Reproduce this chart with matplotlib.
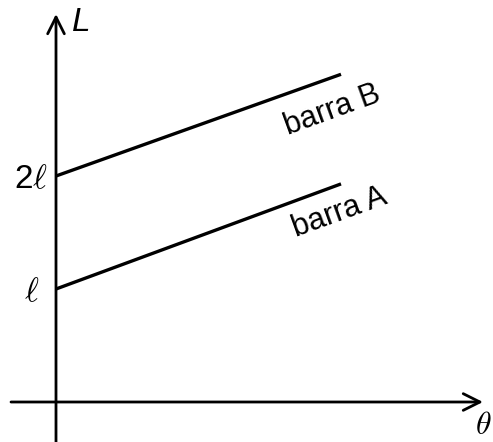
import matplotlib
matplotlib.use('Agg')
import matplotlib.pyplot as plt

plt.rcParams["font.family"] = "Liberation Sans"
plt.rcParams["mathtext.fontset"] = "cm"

# data: temperature (arbitrary units) vs length, in units of l
theta = [0.0, 1.0]
L_A = [1.0, 1.93]
L_B = [2.0, 2.9]
tick_vals = [1.0, 2.0]
tick_labels = [r"$\ell$", r"2$\ell$"]

# pixel -> data scale: origin at (56, 402), x unit 285 px, y unit 113 px
W, H = 493, 442
ox, oy, ux, uy = 56, 402, 285, 113

fig = plt.figure(figsize=(W / 100, H / 100), dpi=100)
ax = fig.add_axes([0, 0, 1, 1])
ax.set_xlim(-ox / ux, (W - ox) / ux)
ax.set_ylim(-(H - oy) / uy, oy / uy)
ax.axis('off')

# axes with open arrow heads
ax.annotate('', xy=((483 - ox) / ux, 0), xytext=((11 - ox) / ux, 0),
            arrowprops=dict(arrowstyle='->', lw=2.0, color='black',
                            mutation_scale=30, shrinkA=0, shrinkB=0))
ax.annotate('', xy=(0, (oy - 14) / uy), xytext=(0, -(H - oy) / uy),
            arrowprops=dict(arrowstyle='->', lw=2.0, color='black',
                            mutation_scale=30, shrinkA=0, shrinkB=0))

ax.plot(theta, L_A, color='black', lw=2.4, solid_capstyle='butt')
ax.plot(theta, L_B, color='black', lw=2.4, solid_capstyle='butt')

ax.text(-0.06, tick_vals[0] - 0.03, tick_labels[0], fontsize=24, ha='right', va='center')
ax.text(-0.03, tick_vals[1] - 0.03, tick_labels[1], fontsize=24, ha='right', va='center')

ax.text((72 - ox) / ux, (oy - 22) / uy, 'L', fontsize=24, style='italic',
        ha='left', va='center')
ax.text((475 - ox) / ux, (oy - 426) / uy, r'$\theta$', fontsize=23,
        ha='left', va='center')

ax.text((332 - ox) / ux, (oy - 110) / uy, 'barra B', fontsize=22, rotation=20,
        ha='center', va='center', rotation_mode='anchor')
ax.text((340 - ox) / ux, (oy - 213) / uy, 'barra A', fontsize=22, rotation=20,
        ha='center', va='center', rotation_mode='anchor')

plt.savefig('out.png', dpi=100)
plt.close()
